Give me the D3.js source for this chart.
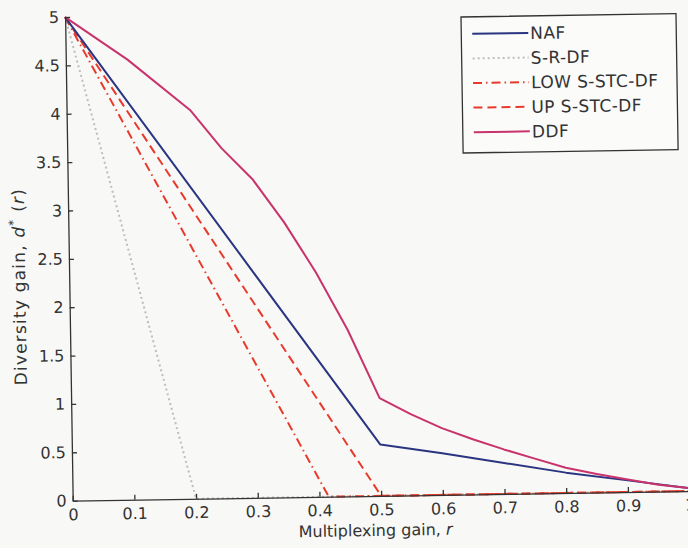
<!DOCTYPE html>
<html>
<head>
<meta charset="utf-8">
<script src="https://cdn.jsdelivr.net/npm/d3@7"></script>
<style>
  body { margin: 0; background: #f8f8f6; }
  #chart text { font-family: "DejaVu Sans", sans-serif; fill: #333; }
</style>
</head>
<body>
<div id="chart"></div>
<script>
// ticks
const xTicks = [0, 0.1, 0.2, 0.3, 0.4, 0.5, 0.6, 0.7, 0.8, 0.9, 1];
const yTicks = [0, 0.5, 1, 1.5, 2, 2.5, 3, 3.5, 4, 4.5, 5];

// series (multiplexing gain r -> diversity gain)
const seriesNames = ['NAF', 'S-R-DF', 'LOW S-STC-DF', 'UP S-STC-DF', 'DDF'];

const rNAF = [0, 0.5, 0.6, 0.7, 0.8, 0.9, 1.0];
const dNAF = [5, 0.53, 0.43, 0.32, 0.21, 0.12, 0.03];

const rSRDF = [0, 0.2, 1.0];
const dSRDF = [5, 0, 0];

const rLow = [0, 0.415, 1.0];
const dLow = [5, 0, 0];

const rUp = [0, 0.5, 1.0];
const dUp = [5, 0, 0];

const rDDF = [0, 0.1, 0.2, 0.25, 0.3, 0.35, 0.4, 0.45, 0.5, 0.55, 0.6, 0.65, 0.7, 0.75, 0.8, 0.85, 0.9, 0.95, 1.0];
const dDDF = [5, 4.55, 4.02, 3.62, 3.29, 2.84, 2.32, 1.72, 1.01, 0.84, 0.69, 0.57, 0.46, 0.36, 0.26, 0.19, 0.13, 0.07, 0.03];

const styles = {
  'NAF':          { color: '#2a3582', width: 2,   dash: null },
  'S-R-DF':       { color: '#bdbdbd', width: 2,   dash: '2,3' },
  'LOW S-STC-DF': { color: '#e83a2c', width: 2,   dash: '9,4,1.5,4' },
  'UP S-STC-DF':  { color: '#e83a2c', width: 2,   dash: '9,5' },
  'DDF':          { color: '#c9336c', width: 2,   dash: null }
};

const zipPts = (rs, ds) => rs.map((r, i) => ({ r: r, d: ds[i] }));
const series = [
  { name: 'S-R-DF', pts: zipPts(rSRDF, dSRDF) },
  { name: 'LOW S-STC-DF', pts: zipPts(rLow, dLow) },
  { name: 'UP S-STC-DF', pts: zipPts(rUp, dUp) },
  { name: 'NAF', pts: zipPts(rNAF, dNAF) },
  { name: 'DDF', pts: zipPts(rDDF, dDDF) }
];

const W = 688, H = 548;
// the scanned figure sits slightly rotated
const origin = { x: 72.7, y: 500.7 };
const tilt = -0.9;
const width = 617, height = 483.7;

const svg = d3.select('#chart').append('svg')
  .attr('width', W)
  .attr('height', H);

const g = svg.append('g')
  .attr('transform', `translate(${origin.x},${origin.y}) rotate(${tilt}) translate(0,${-height})`);

const x = d3.scaleLinear().domain([0, 1]).range([0, width]);
const y = d3.scaleLinear().domain([0, 5]).range([height, 0]);

const line = d3.line()
  .x(p => x(p.r))
  .y(p => y(p.d));

g.selectAll('.series')
  .data(series)
  .enter().append('path')
  .attr('class', 'series')
  .attr('fill', 'none')
  .attr('stroke', s => styles[s.name].color)
  .attr('stroke-width', s => styles[s.name].width)
  .attr('stroke-dasharray', s => styles[s.name].dash)
  .attr('stroke-linejoin', 'round')
  .attr('d', s => line(s.pts));

const xAxis = g.append('g')
  .attr('transform', `translate(0,${height})`)
  .call(d3.axisBottom(x).tickValues(xTicks).tickFormat(d => String(d))
    .tickSizeInner(-5).tickSizeOuter(0).tickPadding(8));

const yAxis = g.append('g')
  .call(d3.axisLeft(y).tickValues(yTicks).tickFormat(d => String(d))
    .tickSizeInner(-5).tickSizeOuter(0).tickPadding(6));

[xAxis, yAxis].forEach(a => {
  a.selectAll('path, line').attr('stroke', '#333').attr('stroke-width', 1.3);
  a.selectAll('text').style('font-size', '16px').attr('fill', '#333');
});

g.append('text')
  .attr('x', width * 0.49)
  .attr('y', height + 40)
  .attr('text-anchor', 'middle')
  .style('font-size', '16px')
  .text('Multiplexing gain, ')
  .append('tspan').style('font-style', 'italic').text('r');

const yLabel = g.append('text')
  .attr('transform', `translate(${-44},${height / 2 + 27}) rotate(-90)`)
  .attr('text-anchor', 'middle')
  .style('font-size', '17px')
  .style('letter-spacing', '1.2px');
yLabel.append('tspan').text('Diversity gain, ');
yLabel.append('tspan').style('font-style', 'italic').text('d');
yLabel.append('tspan').attr('dy', -7).style('font-size', '12px').text('*');
yLabel.append('tspan').attr('dy', 7).text(' (');
yLabel.append('tspan').style('font-style', 'italic').text('r');
yLabel.append('tspan').text(')');

// legend
const legend = svg.append('g')
  .attr('transform', `translate(461,17) rotate(${tilt})`);

legend.append('rect')
  .attr('width', 215)
  .attr('height', 136)
  .attr('fill', '#fbfbfa')
  .attr('stroke', '#333')
  .attr('stroke-width', 1.3);

const items = legend.selectAll('.item')
  .data(seriesNames)
  .enter().append('g')
  .attr('class', 'item')
  .attr('transform', (d, i) => `translate(0,${17 + i * 24.6})`);

items.append('line')
  .attr('x1', 11).attr('x2', 67)
  .attr('stroke', d => styles[d].color)
  .attr('stroke-width', d => styles[d].width)
  .attr('stroke-dasharray', d => styles[d].dash);

items.append('text')
  .attr('x', 69)
  .attr('dy', '0.36em')
  .style('font-size', '17px')
  .style('letter-spacing', '0.4px')
  .text(d => d);
</script>
</body>
</html>
